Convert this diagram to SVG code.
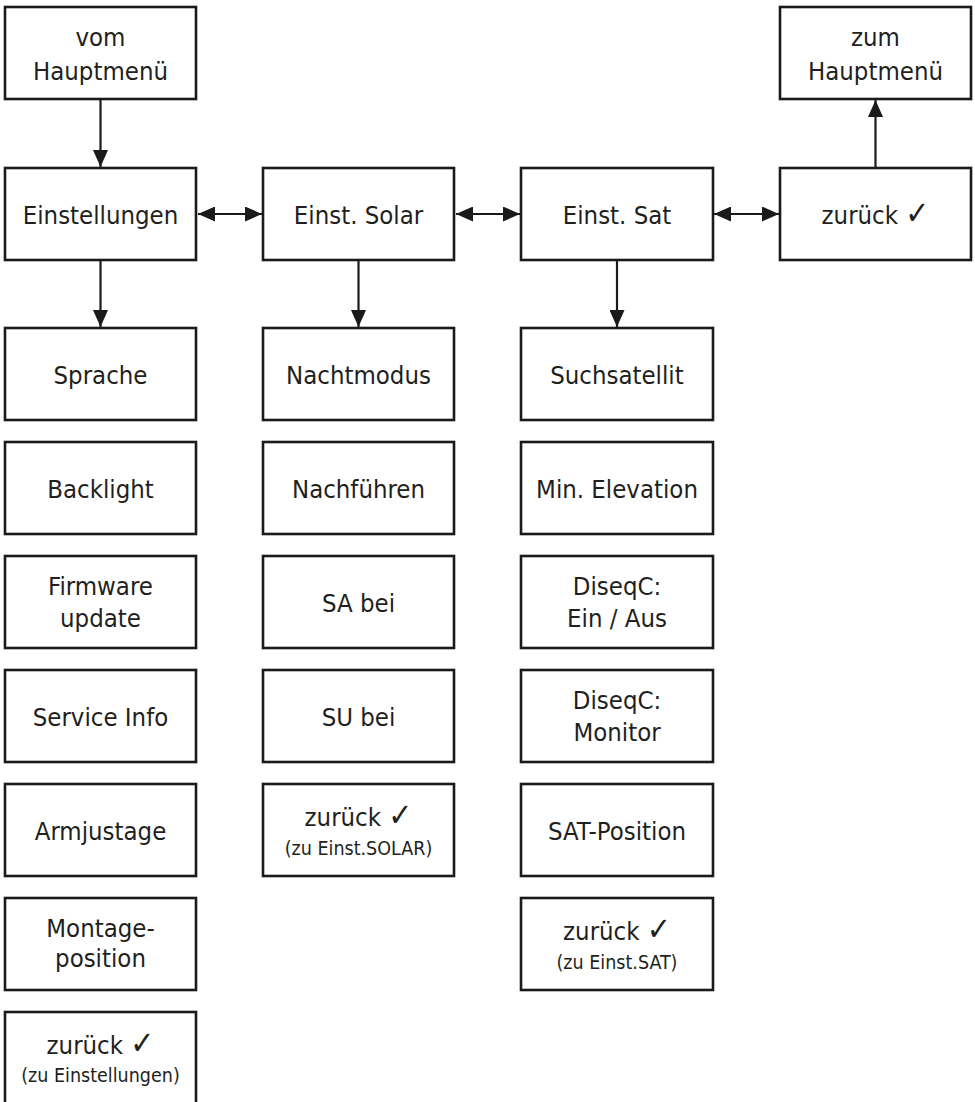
<svg xmlns="http://www.w3.org/2000/svg" width="975" height="1102" viewBox="0 0 975 1102">
<style>
.box{fill:#fff;stroke:#1a1a1a;stroke-width:2.6}
.t{font-family:"DejaVu Sans Condensed","DejaVu Sans",sans-serif;font-stretch:condensed;font-size:25.5px;fill:#231f20;text-anchor:middle}
.s{font-size:19.5px}
.ck{font-family:"DejaVu Sans",sans-serif;font-size:32px;font-weight:bold}
.c{stroke:#1a1a1a;stroke-width:2.2;fill:none}
</style>
<defs>
<marker id="ah" viewBox="0 0 17 15" refX="17" refY="7.5" markerWidth="17" markerHeight="15" markerUnits="userSpaceOnUse" orient="auto-start-reverse">
<path d="M0,0 L17,7.5 L0,15 z" fill="#1a1a1a"/>
</marker>
</defs>
<g id="connectors">
<line class="c" x1="100.5" y1="100" x2="100.5" y2="167" marker-end="url(#ah)"/>
<line class="c" x1="198" y1="214" x2="262" y2="214" marker-start="url(#ah)" marker-end="url(#ah)"/>
<line class="c" x1="456" y1="214" x2="520" y2="214" marker-start="url(#ah)" marker-end="url(#ah)"/>
<line class="c" x1="714" y1="214" x2="779" y2="214" marker-start="url(#ah)" marker-end="url(#ah)"/>
<line class="c" x1="875.5" y1="167" x2="875.5" y2="100" marker-end="url(#ah)"/>
<line class="c" x1="100.5" y1="261" x2="100.5" y2="327" marker-end="url(#ah)"/>
<line class="c" x1="358.5" y1="261" x2="358.5" y2="327" marker-end="url(#ah)"/>
<line class="c" x1="617" y1="261" x2="617" y2="327" marker-end="url(#ah)"/>
</g>
<g id="vom-hauptmenue"><rect class="box" x="5" y="7" width="191" height="92"/><text class="t" x="100.5" y="46">vom</text><text class="t" x="100.5" y="80">Hauptmenü</text></g>
<g id="zum-hauptmenue"><rect class="box" x="780" y="7" width="191" height="92"/><text class="t" x="875.5" y="46">zum</text><text class="t" x="875.5" y="80">Hauptmenü</text></g>
<g id="einstellungen"><rect class="box" x="5" y="168" width="191" height="92"/><text class="t" x="100.5" y="224">Einstellungen</text></g>
<g id="einst-solar"><rect class="box" x="263" y="168" width="191" height="92"/><text class="t" x="358.5" y="224">Einst. Solar</text></g>
<g id="einst-sat"><rect class="box" x="521" y="168" width="192" height="92"/><text class="t" x="617" y="224">Einst. Sat</text></g>
<g id="zurueck-top"><rect class="box" x="780" y="168" width="191" height="92"/><text class="t" x="875.5" y="224">zurück <tspan class="ck">✓</tspan></text></g>
<g id="sprache"><rect class="box" x="5" y="328" width="191" height="92"/><text class="t" x="100.5" y="384">Sprache</text></g>
<g id="backlight"><rect class="box" x="5" y="442" width="191" height="92"/><text class="t" x="100.5" y="498">Backlight</text></g>
<g id="firmware"><rect class="box" x="5" y="556" width="191" height="92"/><text class="t" x="100.5" y="595">Firmware</text><text class="t" x="100.5" y="627">update</text></g>
<g id="service-info"><rect class="box" x="5" y="670" width="191" height="92"/><text class="t" x="100.5" y="726">Service Info</text></g>
<g id="armjustage"><rect class="box" x="5" y="784" width="191" height="92"/><text class="t" x="100.5" y="840">Armjustage</text></g>
<g id="montageposition"><rect class="box" x="5" y="898" width="191" height="92"/><text class="t" x="100.5" y="937">Montage-</text><text class="t" x="100.5" y="967">position</text></g>
<g id="zurueck-einstellungen"><rect class="box" x="5" y="1012" width="191" height="92"/><text class="t" x="100.5" y="1054">zurück <tspan class="ck">✓</tspan></text><text class="t s" x="100.5" y="1082">(zu Einstellungen)</text></g>
<g id="nachtmodus"><rect class="box" x="263" y="328" width="191" height="92"/><text class="t" x="358.5" y="384">Nachtmodus</text></g>
<g id="nachfuehren"><rect class="box" x="263" y="442" width="191" height="92"/><text class="t" x="358.5" y="498">Nachführen</text></g>
<g id="sa-bei"><rect class="box" x="263" y="556" width="191" height="92"/><text class="t" x="358.5" y="612">SA bei</text></g>
<g id="su-bei"><rect class="box" x="263" y="670" width="191" height="92"/><text class="t" x="358.5" y="726">SU bei</text></g>
<g id="zurueck-solar"><rect class="box" x="263" y="784" width="191" height="92"/><text class="t" x="358.5" y="826">zurück <tspan class="ck">✓</tspan></text><text class="t s" x="358.5" y="855">(zu Einst.SOLAR)</text></g>
<g id="suchsatellit"><rect class="box" x="521" y="328" width="192" height="92"/><text class="t" x="617" y="384">Suchsatellit</text></g>
<g id="min-elevation"><rect class="box" x="521" y="442" width="192" height="92"/><text class="t" x="617" y="498">Min. Elevation</text></g>
<g id="diseqc-ein-aus"><rect class="box" x="521" y="556" width="192" height="92"/><text class="t" x="617" y="595">DiseqC:</text><text class="t" x="617" y="627">Ein / Aus</text></g>
<g id="diseqc-monitor"><rect class="box" x="521" y="670" width="192" height="92"/><text class="t" x="617" y="709">DiseqC:</text><text class="t" x="617" y="741">Monitor</text></g>
<g id="sat-position"><rect class="box" x="521" y="784" width="192" height="92"/><text class="t" x="617" y="840">SAT-Position</text></g>
<g id="zurueck-sat"><rect class="box" x="521" y="898" width="192" height="92"/><text class="t" x="617" y="940">zurück <tspan class="ck">✓</tspan></text><text class="t s" x="617" y="969">(zu Einst.SAT)</text></g>
</svg>
